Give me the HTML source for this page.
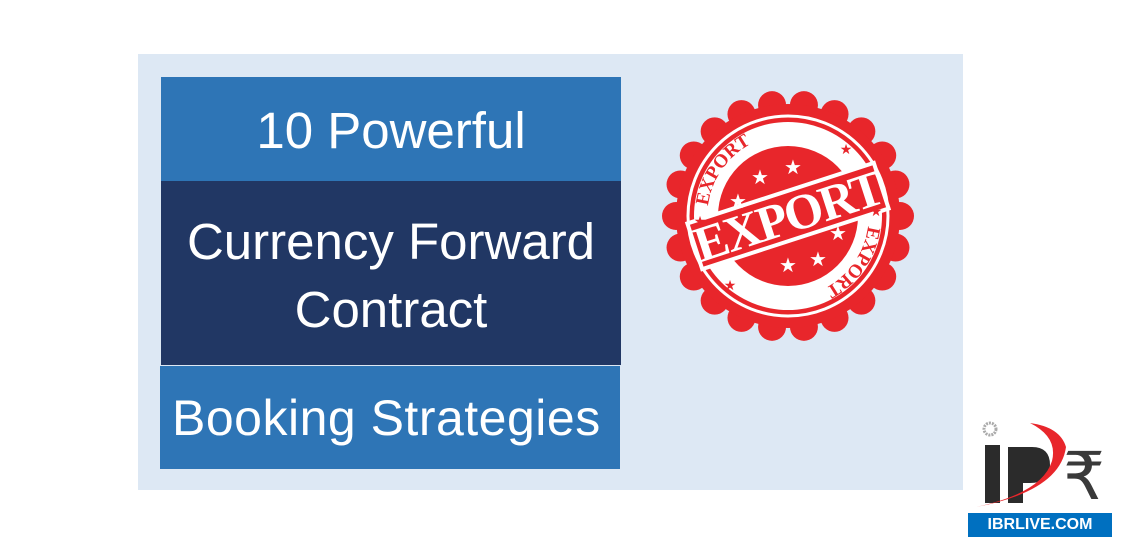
<!DOCTYPE html>
<html><head><meta charset="utf-8"><style>
body{margin:0;width:1124px;height:550px;background:#fff;position:relative;overflow:hidden;font-family:"Liberation Sans",sans-serif}
.abs{position:absolute}
.box{position:absolute;color:#fff;text-align:center;font-size:51px;display:flex;align-items:center;justify-content:center;line-height:68px;white-space:nowrap}
</style></head><body>
<div class="abs" style="left:138px;top:54px;width:825px;height:436px;background:#dde8f4"></div>
<div class="box" style="left:161px;top:77px;width:460px;height:104px;background:#2e75b6;padding-top:4px;box-sizing:border-box">10 Powerful</div>
<div class="box" style="left:161px;top:181px;width:460px;height:184px;background:#213764;padding-top:6px;box-sizing:border-box">Currency Forward<br>Contract</div>
<div class="box" style="left:160px;top:366px;width:460px;height:103px;background:#2e75b6;justify-content:flex-start;padding-left:12px;box-sizing:border-box;font-size:50px;letter-spacing:0.5px">Booking Strategies</div>
<svg class="abs" style="left:660px;top:88px" width="256" height="256" viewBox="-128 -128 256 256">
<g fill="#e8262b" id="bumps"></g>
<circle r="112" fill="#e8262b"/>
<circle r="100" fill="none" stroke="#fff" stroke-width="3"/>
<circle r="94" fill="#fff"/>
<circle r="70" fill="#e8262b"/>
<g transform="rotate(-18)">
<rect x="-100" y="-26" width="200" height="52" fill="#fff"/>
<rect x="-96" y="-22" width="192" height="44" fill="#e8262b"/>
<text x="0" y="17" text-anchor="middle" font-family="Liberation Serif,serif" font-weight="bold" font-size="50" fill="#fff" letter-spacing="-2">EXPORT</text>
</g>
<path id="arcTop" d="M-80,-10 A82,82 0 0 1 40,-72" fill="none"/>
<text font-family="Liberation Serif,serif" font-weight="bold" font-size="19" fill="#e8262b"><textPath href="#arcTop">EXPORT</textPath></text>
<path id="arcBot" d="M80,10 A82,82 0 0 1 -40,72" fill="none"/>
<text font-family="Liberation Serif,serif" font-weight="bold" font-size="19" fill="#e8262b"><textPath href="#arcBot">EXPORT</textPath></text>
<g fill="#fff" font-size="20" text-anchor="middle"><text x="-28" y="-32">★</text><text x="5" y="-42">★</text><text x="-50" y="-8">★</text><text x="30" y="50">★</text><text x="0" y="56">★</text><text x="50" y="24">★</text></g>
<g fill="#e8262b" font-size="14" text-anchor="middle"><text x="-88" y="10">★</text><text x="88" y="0">★</text><text x="58" y="-62">★</text><text x="-58" y="74">★</text></g>
</svg>
<div class="abs" style="left:968px;top:415px;width:144px;height:122px;background:#fff">
<svg width="144" height="98">
<circle cx="22" cy="14" r="6" fill="none" stroke="#aaa" stroke-width="3" stroke-dasharray="2 1"/>
<rect x="17" y="30" width="15" height="58" fill="#2b2b2b"/>
<path d="M40,88 L40,32 L64,32 Q82,32 82,50 Q82,68 62,68 L55,68 L55,88Z" fill="#2b2b2b"/>
<path d="M8,92 Q92,76 98,32 Q92,12 62,8 Q90,22 84,46 Q74,78 8,92Z" fill="#e8262b"/>
<text x="116" y="84" text-anchor="middle" font-size="66" fill="#3a3a3a" font-family="DejaVu Sans,sans-serif">₹</text>
</svg>
<div style="position:absolute;left:0;top:98px;width:144px;height:24px;background:#0070c0;color:#fff;font-weight:bold;font-size:16px;text-align:center;line-height:24px">IBRLIVE.COM</div>
</div>
<script>
var g=document.getElementById('bumps');
for(var i=0;i<22;i++){var a=i/22*Math.PI*2;var c=document.createElementNS('http://www.w3.org/2000/svg','circle');
c.setAttribute('cx',112*Math.cos(a));c.setAttribute('cy',112*Math.sin(a));c.setAttribute('r',14);


g.appendChild(c);}
</script>
</body></html>
